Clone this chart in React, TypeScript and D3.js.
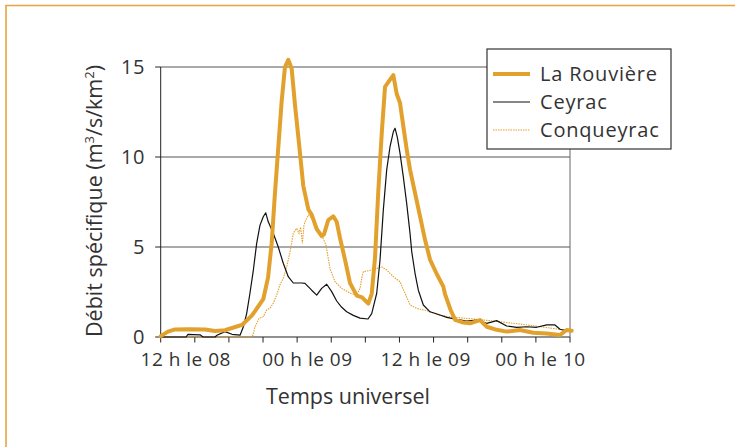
import React from "react";
import * as d3 from "d3";

// hours since 12 h on the 8th, specific discharge (m3/s/km2)
const rouviere: [number, number][] = [
  [0, 0.05], [0.64, 0.3], [1.26, 0.42], [2.5, 0.43], [3.9, 0.42], [4.78, 0.33], [5.66, 0.38],
  [6.27, 0.5], [7.15, 0.67], [8.03, 1.2], [8.56, 1.68], [9.02, 2.1], [9.44, 3.3], [9.76, 5.2],
  [10.05, 8.0], [10.34, 10.5], [10.64, 13.1], [10.93, 15.0], [11.22, 15.4], [11.52, 14.9],
  [11.81, 12.9], [12.19, 10.6], [12.54, 8.4], [12.98, 7.1], [13.28, 6.8], [13.72, 6.0],
  [14.16, 5.6], [14.36, 5.7], [14.74, 6.5], [15.18, 6.7], [15.48, 6.4], [15.77, 5.5],
  [16.21, 4.3], [16.65, 3.0], [17.24, 2.3], [17.71, 2.2], [18.26, 1.85], [18.56, 2.4],
  [18.85, 4.4], [19.14, 8.1], [19.44, 11.3], [19.73, 13.9], [20.17, 14.3], [20.46, 14.55],
  [20.76, 13.5], [21.05, 13.0], [21.34, 11.7], [21.64, 10.4], [21.93, 9.3], [22.37, 8.0],
  [22.81, 6.7], [23.25, 5.4], [23.69, 4.3], [24.28, 3.5], [24.86, 2.8], [25.0, 2.4],
  [25.5, 1.5], [25.9, 0.95], [26.62, 0.8], [27.21, 0.76], [28.09, 0.94], [28.68, 0.57],
  [29.55, 0.4], [30.43, 0.3], [31.6, 0.39], [32.77, 0.24], [33.95, 0.2], [35.12, 0.11],
  [35.71, 0.39], [36.15, 0.35],
];

const ceyrac: [number, number][] = [
  [0, 0], [2.23, 0], [2.4, 0.15], [3.46, 0.12], [3.72, 0], [4.78, 0], [4.95, 0.1], [5.66, 0.3],
  [6.27, 0.15], [6.98, 0.1], [7.27, 0.57], [7.56, 1.3], [7.85, 2.43], [8.15, 3.72], [8.44, 5.2],
  [8.73, 6.2], [9.02, 6.68], [9.24, 6.9], [9.46, 6.4], [9.9, 5.76], [10.34, 5.0], [10.78, 4.1],
  [11.22, 3.35], [11.66, 3.0], [12.4, 3.0], [12.69, 2.98], [13.28, 2.6], [13.72, 2.33],
  [14.16, 2.7], [14.6, 2.93], [15.04, 2.52], [15.48, 2.0], [15.92, 1.65], [16.36, 1.4],
  [16.94, 1.2], [17.53, 1.05], [18.23, 1.0], [18.56, 1.3], [19.0, 2.43], [19.29, 4.28],
  [19.58, 7.05], [19.88, 9.3], [20.17, 10.57], [20.46, 11.4], [20.61, 11.6], [20.81, 11.1],
  [21.05, 10.2], [21.34, 8.9], [21.64, 7.4], [21.93, 5.76], [22.08, 4.74], [22.37, 3.54],
  [22.66, 2.6], [23.1, 1.78], [23.69, 1.4], [24.57, 1.22], [25.16, 1.09], [26.04, 0.98],
  [26.92, 0.89], [27.8, 0.94], [28.68, 0.76], [29.55, 0.91], [30.43, 0.61], [31.31, 0.54],
  [32.19, 0.57], [33.07, 0.54], [33.95, 0.67], [34.68, 0.67], [35.12, 0.43], [36.0, 0.3],
];

const conqueyrac: [number, number][] = [
  [0, 0], [8.06, 0], [8.3, 0.57], [8.65, 1.04], [9.02, 1.13], [9.32, 1.5], [9.61, 1.6],
  [9.9, 1.87], [10.2, 2.33], [10.49, 2.9], [10.78, 3.26], [11.08, 3.9], [11.37, 4.7],
  [11.66, 5.76], [11.96, 6.04], [12.16, 5.76], [12.31, 6.1], [12.46, 5.2], [12.6, 6.2],
  [12.69, 6.4], [12.98, 6.78], [13.28, 6.6], [13.72, 6.04], [14.16, 5.67], [14.54, 5.1],
  [14.89, 3.8], [15.33, 3.07], [15.92, 2.7], [16.65, 2.43], [17.24, 2.33], [17.53, 2.7],
  [17.68, 3.26], [17.82, 3.63], [18.56, 3.72], [19.0, 3.8], [19.44, 3.9], [19.88, 3.72],
  [20.46, 3.35], [21.05, 3.07], [21.49, 2.43], [21.93, 1.78], [22.52, 1.59], [23.4, 1.46],
  [24.57, 1.2], [25.74, 1.1], [28.09, 0.97], [31.6, 0.72], [36.0, 0.35],
];

const yTicks = [0, 5, 10, 15];
const xTickHours = d3.range(0, 37, 3);
const xLabels = ["12 h le 08", "00 h le 09", "12 h le 09", "00 h le 10"];
const xLabelHours = [2.2, 12.9, 23.3, 33.4];
const seriesNames = ["La Rouvière", "Ceyrac", "Conqueyrac"];

const ORANGE = "#e2a12c";
const FRAME = "#e8a53f";
const TEXT = "#333";
const FONT = "'Open Sans', Lato, sans-serif";

export default function App() {
  const x = d3.scaleLinear().domain([0, 36]).range([160.7, 570]);
  const y = d3.scaleLinear().domain([0, 15]).range([337, 67]);
  const line = d3
    .line<[number, number]>()
    .x((d) => x(d[0]))
    .y((d) => y(d[1]));

  const legendX = 487;
  const legendY = 49;
  const legendRows = [74, 102, 130];
  const styles = [
    { stroke: ORANGE, width: 4, dash: undefined as string | undefined },
    { stroke: "#111", width: 1.2, dash: undefined },
    { stroke: ORANGE, width: 1.1, dash: "1.5,1" },
  ];

  return (
    <svg
      width={735}
      height={447}
      style={{ position: "absolute", left: 0, top: 0, background: "#fff" }}
      fontFamily={FONT}
    >
      {/* frame */}
      <path d="M6,447 V5.5 H735" fill="none" stroke={FRAME} strokeWidth={1.6} />

      {/* gridlines */}
      {yTicks.map((t) => (
        <line key={t} x1={x(0)} x2={x(36)} y1={y(t)} y2={y(t)} stroke={t === 0 ? "#222" : "#555"} strokeWidth={1} />
      ))}
      {/* axes */}
      <line x1={x(0)} x2={x(0)} y1={y(15)} y2={y(0)} stroke="#222" strokeWidth={1} />
      <line x1={x(36)} x2={x(36)} y1={y(15)} y2={y(0)} stroke="#666" strokeWidth={1} />
      {yTicks.map((t) => (
        <g key={"yt" + t}>
          <line x1={x(0) - 5.5} x2={x(0)} y1={y(t)} y2={y(t)} stroke="#222" />
          <text x={145} y={y(t)} dy="0.36em" textAnchor="end" fontSize={20} letterSpacing={0.6} fill={TEXT}>
            {t}
          </text>
        </g>
      ))}
      {xTickHours.map((h) => (
        <line key={"xt" + h} x1={x(h)} x2={x(h)} y1={y(0)} y2={y(0) + 5.5} stroke="#222" />
      ))}
      {xLabels.map((l, i) => (
        <text key={l} x={x(xLabelHours[i])} y={366} textAnchor="middle" fontSize={19} letterSpacing={0.5} fill={TEXT}>
          {l}
        </text>
      ))}
      <text x={348} y={404} textAnchor="middle" fontSize={21.5} fill={TEXT}>
        Temps universel
      </text>
      <text
        transform="translate(102,201) rotate(-90)"
        textAnchor="middle"
        fontSize={21.5}
        fill={TEXT}
      >
        Débit spécifique (m<tspan dy="-8" fontSize={13}>3</tspan>
        <tspan dy="8">/s/km</tspan>
        <tspan dy="-8" fontSize={13}>2</tspan>
        <tspan dy="8">)</tspan>
      </text>

      {/* series */}
      <path d={line(conqueyrac) || ""} fill="none" stroke={ORANGE} strokeWidth={1.1} strokeDasharray="1.5,1" />
      <path d={line(ceyrac) || ""} fill="none" stroke="#111" strokeWidth={1.2} strokeLinejoin="round" />
      <path d={line(rouviere) || ""} fill="none" stroke={ORANGE} strokeWidth={4} strokeLinejoin="round" strokeLinecap="round" />

      {/* legend */}
      <rect x={legendX} y={legendY} width={184} height={100} fill="#fff" stroke="#333" strokeWidth={1.2} />
      {seriesNames.map((n, i) => (
        <g key={n}>
          <line
            x1={493}
            x2={530}
            y1={legendRows[i]}
            y2={legendRows[i]}
            stroke={styles[i].stroke}
            strokeWidth={styles[i].width}
            strokeDasharray={styles[i].dash}
          />
          <text x={540} y={legendRows[i]} dy="0.36em" fontSize={20} letterSpacing={0.8} fill={TEXT}>
            {n}
          </text>
        </g>
      ))}
    </svg>
  );
}
